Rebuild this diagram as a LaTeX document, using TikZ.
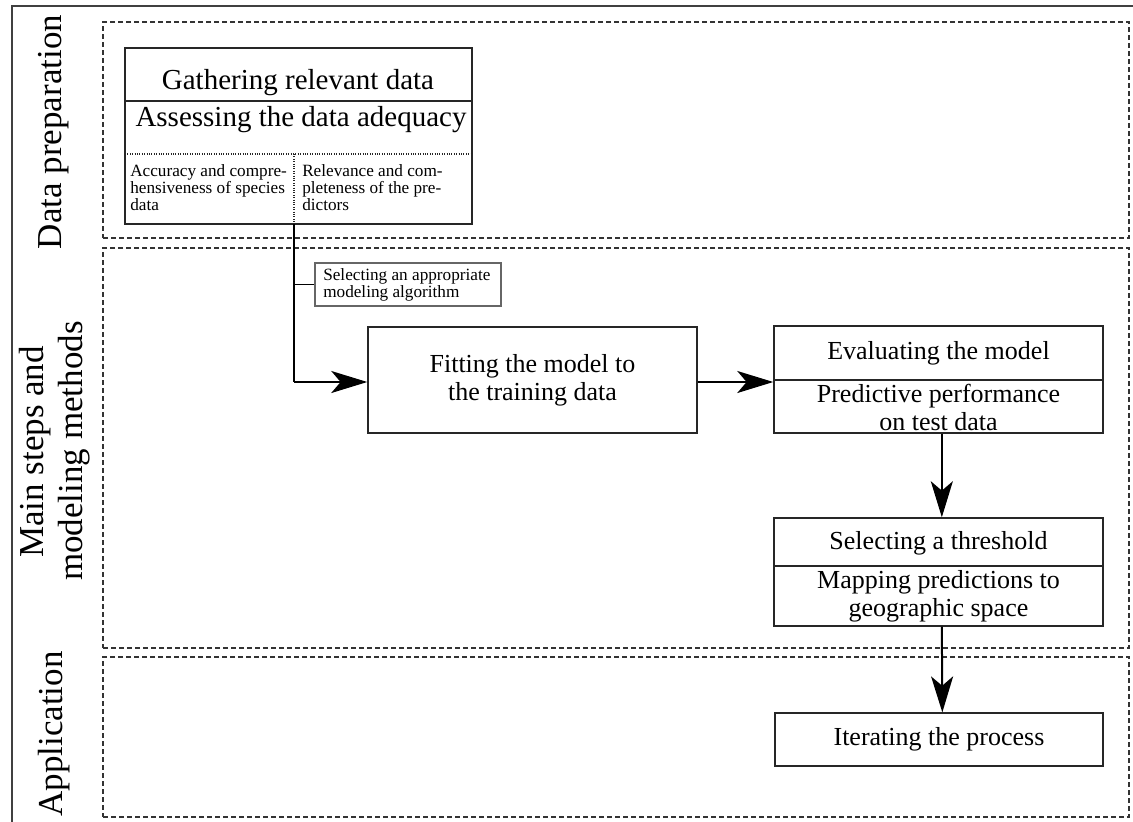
\documentclass[tikz,border=0pt]{standalone}
\usepackage{fontspec}
\setmainfont{Liberation Serif}
\usetikzlibrary{arrows.meta,fit}
\tikzset{
  lane/.style={draw=black!80, line width=0.9pt, dash pattern=on 3.75pt off 2.25pt},
  stepbox/.style={draw=black!85, line width=1.1pt, inner sep=0pt},
  smallbox/.style={draw=black!60, line width=0.8pt, inner sep=0pt},
  big/.style={font=\fontsize{19.5}{21}\selectfont, align=center, inner sep=0pt},
  huge/.style={font=\fontsize{21.75}{23}\selectfont, align=center, inner sep=0pt},
  small/.style={font=\fontsize{12.9}{12.75}\selectfont, align=left, inner sep=0pt, anchor=north west},
  lanelabel/.style={font=\fontsize{26.25}{30}\selectfont, rotate=90, anchor=base, inner sep=0pt},
  flow/.style={line width=1.5pt, -{Stealth[length=27pt,width=16.5pt,inset=7pt]}},
  link/.style={line width=1.5pt},
}
\begin{document}
\begin{tikzpicture}[x=0.75pt,y=-0.75pt]
\useasboundingbox (0,0) rectangle (1133,822);
% outer frame
\draw[black!75, line width=1pt] (12,822) -- (12,6) -- (1133,6);
% lanes
\node[lane, fit={(103,22) (1129,238)}, inner sep=0pt] (lane1) {};
\node[lane, fit={(103,248) (1129,648)}, inner sep=0pt] (lane2) {};
\node[lane, fit={(103,657) (1129,817)}, inner sep=0pt] (lane3) {};
% lane labels
\node[lanelabel] (l1) at (61,132) {Data preparation};
\node[lanelabel] (l2a) at (43,452) {Main steps and};
\node[lanelabel] (l2b) at (82,451) {modeling methods};
\node[lanelabel] (l3) at (62,734) {Application};
% gathering box
\node[stepbox, fit={(125,48) (472,224)}] (gather) {};
\draw[black!85, line width=1pt] (125,101) -- (472,101);
\draw[black!85, line width=0.8pt, densely dotted] (125,154) -- (472,154);
\draw[black!85, line width=0.8pt, densely dotted] (294,154) -- (294,224);
\node[huge] (t1) at (298,83) {Gathering relevant data};
\node[huge] (t2) at (301,120) {Assessing the data adequacy};
\node[small] (t3) at (130,164) {Accuracy and compre-\\hensiveness of species\\data};
\node[small] (t4) at (302,164) {Relevance and com-\\pleteness of the pre-\\dictors};
% algorithm box
\node[smallbox, fit={(315,263) (501,306)}] (algo) {};
\node[small, anchor=west] (t5) at (323,285) {Selecting an appropriate\\modeling algorithm};
% fitting box
\node[stepbox, fit={(368,327) (697,433)}] (fitb) {};
\node[big] (t6) at (fitb.center) {Fitting the model to\\the training data};
% evaluating box
\node[stepbox, fit={(774,326) (1103,433)}] (eval) {};
\draw[black!85, line width=1pt] (774,380) -- (1103,380);
\node[big] (t7) at (938.5,353) {Evaluating the model};
\node[big] (t8) at (938.5,407) {Predictive performance\\on test data};
% threshold box
\node[stepbox, fit={(774,518) (1103,626)}] (thr) {};
\draw[black!85, line width=1pt] (774,566) -- (1103,566);
\node[big] (t9) at (938.5,543) {Selecting a threshold};
\node[big] (t10) at (938.5,596) {Mapping predictions to\\geographic space};
% iterating box
\node[stepbox, line width=0.9pt, fit={(775,713) (1103,766)}] (iter) {};
\node[big] (t11) at (iter.center) {Iterating the process};
% connectors
\coordinate (split) at (294,224);
\coordinate (corner) at (294,382);
\coordinate (tick) at (294,284.5);
\draw[link] (split) -- (corner);
\draw[flow] (corner) -- (fitb.west |- corner);
\draw[link, line width=1.1pt] (tick) -- (algo.west |- tick);
\draw[flow] (fitb.east |- corner) -- (eval.west |- corner);
\draw[flow] ([xshift=2.5]eval.south) -- ([xshift=2.5]thr.north);
\draw[flow] ([xshift=2.5]thr.south) -- ([xshift=2.5]iter.north);
\end{tikzpicture}
\end{document}
